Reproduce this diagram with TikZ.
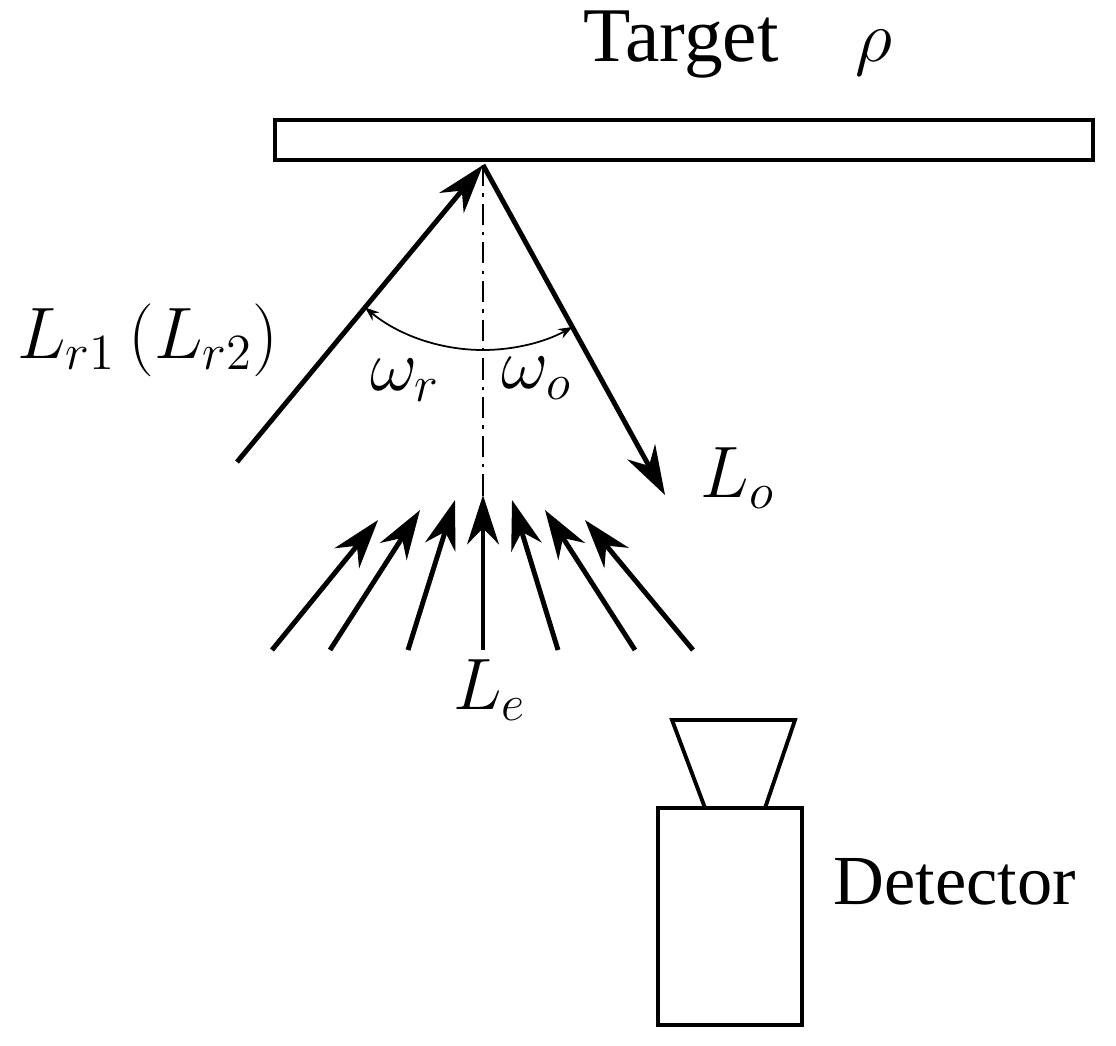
\documentclass[tikz,border=0pt]{standalone}
\usepackage{amsmath}
\usepackage{fontspec}
\setmainfont{Liberation Serif}
\usetikzlibrary{arrows.meta,positioning}
\begin{document}
\begin{tikzpicture}[x=0.01cm,y=-0.01cm,
    ray/.style={line width=1.4pt,-{Stealth[length=14pt,width=9pt]}},
    lbl/.style={font=\fontsize{20}{24}\selectfont},
    box/.style={draw,line width=1.1pt}]
\useasboundingbox (0,0) rectangle (1116,1045);
% target plate
\node[box,minimum width=818*0.01cm,minimum height=40*0.01cm,inner sep=0pt] (plate) at (684,140) {};
\node[lbl,font=\fontsize{22}{26}\selectfont] (tgt) at (738,45) {Target\quad$\rho$};
\coordinate (apex) at (483,165);
\coordinate (inS) at (237,462);
\coordinate (outE) at (665,495);
\coordinate (axE) at (483,510);
\draw[ray] (inS) -- (apex);
\draw[ray] (apex) -- (outE);
\draw[line width=0.6pt,dash pattern=on 6pt off 2pt on 1pt off 2pt] (apex) -- (axE);
% angles
\draw[-{Stealth[length=4pt]},line width=0.5pt] (apex) ++(90:185) arc (90:129.6:185);
\draw[-{Stealth[length=4pt]},line width=0.5pt] (apex) ++(90:185) arc (90:61.1:185);
\node[lbl] (wr) at (405,380) {$\omega_r$};
\node[lbl] (wo) at (537,378) {$\omega_o$};
\node[lbl] (Lr) at (148,340) {$L_{r1}\,(L_{r2})$};
\node[lbl] (Lo) at (738,478) {$L_o$};
% emitted radiation fan
\foreach \sx/\tx/\ty [count=\i] in {272/378/520, 330/420/510, 408/455/500, 483/483/495, 558/512/500, 635/545/510, 693/585/520}{
  \coordinate (e\i) at (\sx,650);
  \coordinate (t\i) at (\tx,\ty);
  \draw[ray] (e\i) -- (t\i);
}
\node[lbl] (Le) at (490,690) {$L_e$};
% detector
\node[box,minimum width=144*0.01cm,minimum height=217*0.01cm,inner sep=0pt] (det) at (730,916.5) {};
\draw[line width=1.1pt] (705,808) -- (672,720) -- (795,720) -- (765,808);
\node[lbl] (dl) at (955,882) {Detector};
\end{tikzpicture}
\end{document}
